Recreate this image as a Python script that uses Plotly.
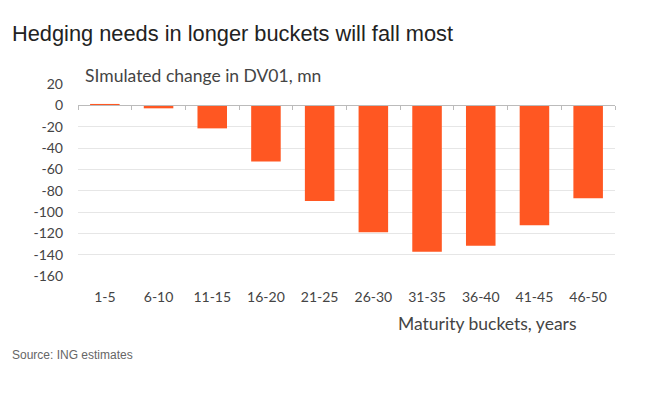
import plotly.graph_objects as go

categories = ["1-5", "6-10", "11-15", "16-20", "21-25", "26-30", "31-35", "36-40", "41-45", "46-50"]
dv01_change = [1.3, -2.8, -21.6, -52.7, -89.7, -119, -137.3, -131.7, -112.5, -87]
y_ticks = [20, 0, -20, -40, -60, -80, -100, -120, -140, -160]

# page body adds an 8px offset; the figure is sized to fill the rest of the window
OFF = 8
W, H = 648 - OFF, 394 - OFF
L, R, T, B = 78 - OFF, 615 - OFF, 84 - OFF, 276 - OFF
PW, PH = R - L, B - T
ymin, ymax = -160, 20
zero_pos = (0 - ymin) / (ymax - ymin)

def px(x):
    return (x - OFF - L) / PW

def py(y):
    return (B - (y - OFF)) / PH

fig = go.Figure()
fig.add_trace(go.Bar(x=categories, y=dv01_change, marker=dict(color="#FF5722", line=dict(width=0)),
                     width=0.55, xaxis="x", yaxis="y"))
fig.add_trace(go.Bar(x=categories, y=[None]*len(categories), xaxis="x2", yaxis="y",
                     showlegend=False, hoverinfo="skip"))

axis_font = dict(family="Lato, 'Noto Sans', sans-serif", size=14, color="#444444")

fig.update_layout(
    width=W, height=H,
    margin=dict(l=L, r=W - R, t=T, b=H - B, autoexpand=False),
    paper_bgcolor="white", plot_bgcolor="white",
    showlegend=False,
    xaxis=dict(type="category", categoryorder="array", categoryarray=categories,
               showgrid=False, showline=False, zeroline=False, ticks="",
               tickfont=axis_font, ticklabelstandoff=11, automargin=False),
    xaxis2=dict(type="category", categoryorder="array", categoryarray=categories,
                overlaying="x", matches="x", anchor="free", position=zero_pos,
                showline=True, linecolor="#BBBBBB", linewidth=1,
                ticks="outside", tickson="boundaries", ticklen=4, tickcolor="#BBBBBB",
                showticklabels=False, showgrid=False, zeroline=False),
    yaxis=dict(range=[ymin, ymax], tickvals=y_ticks, ticktext=[str(v) for v in y_ticks],
               showgrid=True, gridcolor="#E6E6E6", gridwidth=1, zeroline=False,
               showline=False, ticks="", tickfont=axis_font, ticklabelstandoff=14, automargin=False),
)

fig.add_annotation(text="Hedging needs in longer buckets will fall most", xref="paper", yref="paper",
                   x=px(10), y=py(33), xanchor="left", yanchor="middle", showarrow=False,
                   font=dict(family="Liberation Sans, Arial, sans-serif", size=21.8, color="#222222"))
fig.add_annotation(text="SImulated change in DV01, mn", xref="paper", yref="paper",
                   x=px(83), y=py(75), xanchor="left", yanchor="middle", showarrow=False,
                   font=dict(family="Lato, 'Noto Sans', sans-serif", size=17.5, color="#444444"))
fig.add_annotation(text="Maturity buckets, years", xref="paper", yref="paper",
                   x=px(578), y=py(323), xanchor="right", yanchor="middle", showarrow=False,
                   font=dict(family="Lato, 'Noto Sans', sans-serif", size=17.5, color="#444444"))
fig.add_annotation(text="Source: ING estimates", xref="paper", yref="paper",
                   x=px(10), y=py(355), xanchor="left", yanchor="middle", showarrow=False,
                   font=dict(family="Liberation Sans, Arial, sans-serif", size=12, color="#666666"))

fig.write_html("out.html")
